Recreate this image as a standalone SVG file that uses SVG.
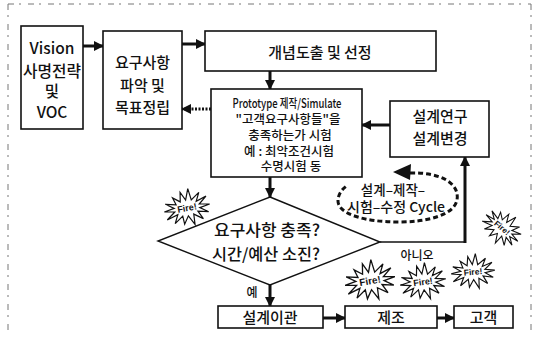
<svg xmlns="http://www.w3.org/2000/svg" width="539" height="337" viewBox="0 0 539 337">
  <style>
    .box { fill: #ffffff; stroke: #111; stroke-width: 1.6; }
    .t { font-family: "Noto Sans CJK KR", "Noto Sans", sans-serif; font-weight: 500; fill: #111; text-anchor: middle; }
    .big { font-size: 15.5px; }
    .mid { font-size: 15px; }
    .sm { font-size: 12.5px; }
    .lbl { font-size: 12px; }
    .conn { fill: none; stroke: #111; stroke-width: 3; }
    .thin { fill: none; stroke: #111; stroke-width: 1.4; }
    .frame { fill: none; stroke: #777; stroke-width: 1; stroke-dasharray: 6 5 2 7; }
    .burst { fill: #fff; stroke: #111; stroke-width: 1.2; stroke-linejoin: miter; }
    .fire { font-family: "Liberation Sans", sans-serif; font-size: 9px; font-weight: bold; fill: #111; text-anchor: middle; }
  </style>
  <defs>
    <marker id="head" markerUnits="userSpaceOnUse" markerWidth="10" markerHeight="10" refX="9" refY="5" orient="auto">
      <path d="M0,0 L10,5 L0,10 z" fill="#111"/>
    </marker>
    <path id="star" d="M23,0 L12.7,1.8 L20.7,7.4 L10.2,5 L14.3,13.3 L5.6,7.2 L5.1,17.5 L0,8 L-5.1,15.6 L-5.6,7.2 L-14.3,13.3 L-10.2,5 L-21.5,8.4 L-12.7,1.8 L-23,0 L-12.7,-1.8 L-20.7,-7.4 L-10.2,-5 L-12.5,-12.5 L-5.6,-7.2 L-4.1,-16.6 L0,-8 L4.1,-19 L5.6,-7.2 L14.3,-13.3 L10.2,-5 L20.7,-8.4 L12.7,-1.8 z"/>
  </defs>

  <!-- scanned page border -->
  <g id="frame">
    <line class="frame" x1="8" y1="4" x2="531" y2="4"/>
    <line class="frame" x1="8" y1="4" x2="8" y2="333"/>
    <line class="frame" x1="531" y1="4" x2="531" y2="333"/>
  </g>

  <!-- connectors -->
  <g id="connectors">
    <line class="conn" x1="83" y1="46" x2="103" y2="46" marker-end="url(#head)"/>
    <line class="conn" x1="182" y1="44" x2="205" y2="44" marker-end="url(#head)"/>
    <line class="conn" x1="270" y1="71" x2="270" y2="89" marker-end="url(#head)"/>
    <line class="conn" x1="211" y1="109" x2="182" y2="109" stroke-dasharray="2 1.5" marker-end="url(#head)"/>
    <line class="conn" x1="390" y1="125" x2="362" y2="125" marker-end="url(#head)"/>
    <line class="conn" x1="270" y1="177" x2="270" y2="197" marker-end="url(#head)"/>
    <polyline class="thin" points="380,242 465,242"/>
    <line class="conn" x1="465" y1="243" x2="465" y2="157" marker-end="url(#head)"/>
    <line class="conn" x1="270" y1="285" x2="270" y2="306" marker-end="url(#head)"/>
    <line class="conn" x1="323" y1="318" x2="345" y2="318" marker-end="url(#head)"/>
    <line class="conn" x1="437" y1="318" x2="454" y2="318" marker-end="url(#head)"/>
  </g>

  <g id="vision">
    <rect class="box" x="21" y="26" width="62" height="103"/>
    <text class="t big" x="52" y="54">Vision</text>
    <text class="t big" x="52" y="77" textLength="58" lengthAdjust="spacingAndGlyphs">사명전략</text>
    <text class="t big" x="52" y="97">및</text>
    <text class="t big" x="52" y="118">VOC</text>
  </g>

  <g id="requirements">
    <rect class="box" x="103" y="31" width="79" height="98"/>
    <text class="t mid" x="142.5" y="68">요구사항</text>
    <text class="t mid" x="142.5" y="91">파악 및</text>
    <text class="t mid" x="142.5" y="113">목표정립</text>
  </g>

  <g id="concept">
    <rect class="box" x="205" y="31" width="231" height="40"/>
    <text class="t mid" x="320" y="58">개념도출 및 선정</text>
  </g>

  <g id="prototype">
    <rect class="box" x="211" y="89" width="151" height="88"/>
    <text class="t sm" x="287" y="108" textLength="109" lengthAdjust="spacingAndGlyphs">Prototype 제작/Simulate</text>
    <text class="t sm" x="288" y="124">"고객요구사항들"을</text>
    <text class="t sm" x="290" y="140">충족하는가 시험</text>
    <text class="t sm" x="289" y="156">예 : 최악조건시험</text>
    <text class="t sm" x="291" y="171">수명시험 동</text>
  </g>

  <g id="redesign">
    <rect class="box" x="390" y="101" width="99" height="56"/>
    <text class="t mid" x="440" y="122">설계연구</text>
    <text class="t mid" x="440" y="144">설계변경</text>
  </g>

  <g id="decision">
    <polygon fill="#fff" stroke="#111" stroke-width="1.4" points="270,197 380,242 270,285 158,241"/>
    <text class="t" font-size="16" x="267" y="236" textLength="106" lengthAdjust="spacingAndGlyphs">요구사항 충족?</text>
    <text class="t" font-size="16" x="266" y="260" textLength="108" lengthAdjust="spacingAndGlyphs">시간/예산 소진?</text>
    <text class="t lbl" x="252" y="297">예</text>
    <text class="t lbl" x="417" y="260">아니오</text>
  </g>

  <g id="cycle">
    <path d="M410,173 C440,172 460,183 457,200 C454,215 428,222 398,222 C365,222 338,214 338,201 C338,194 342,189 348,185" fill="none" stroke="#111" stroke-width="3" stroke-dasharray="5 3"/>
    <polygon points="393,172 411,164 410,180" fill="#111"/>
    <text class="t" font-size="13.5" x="393" y="195">설계–제작–</text>
    <text class="t" font-size="13.5" x="396" y="212" textLength="98" lengthAdjust="spacingAndGlyphs">시험–수정 Cycle</text>
  </g>

  <g id="transfer">
    <rect class="box" x="218" y="306" width="105" height="22"/>
    <text class="t mid" x="270" y="323">설계이관</text>
  </g>

  <g id="manufacture">
    <rect class="box" x="345" y="306" width="92" height="22"/>
    <text class="t mid" x="391" y="323">제조</text>
  </g>

  <g id="customer">
    <rect class="box" x="454" y="306" width="59" height="22"/>
    <text class="t mid" x="483.5" y="323">고객</text>
  </g>

  <!-- Fire! bursts -->
  <g id="bursts">
    <g transform="translate(187,208) rotate(-10)">
      <use href="#star" class="burst"/>
      <text class="fire" x="0" y="3">Fire!</text>
    </g>
    <g transform="translate(502,228) rotate(40) scale(0.9)">
      <use href="#star" class="burst"/>
      <text class="fire" x="0" y="3">Fire!</text>
    </g>
    <g transform="translate(370,281) rotate(-10) scale(1.1)">
      <use href="#star" class="burst"/>
      <text class="fire" x="0" y="3">Fire!</text>
    </g>
    <g transform="translate(423,282) rotate(-8)">
      <use href="#star" class="burst"/>
      <text class="fire" x="0" y="3">Fire!</text>
    </g>
    <g transform="translate(473,272) rotate(-5) scale(0.95)">
      <use href="#star" class="burst"/>
      <text class="fire" x="0" y="3">Fire!</text>
    </g>
  </g>
</svg>
